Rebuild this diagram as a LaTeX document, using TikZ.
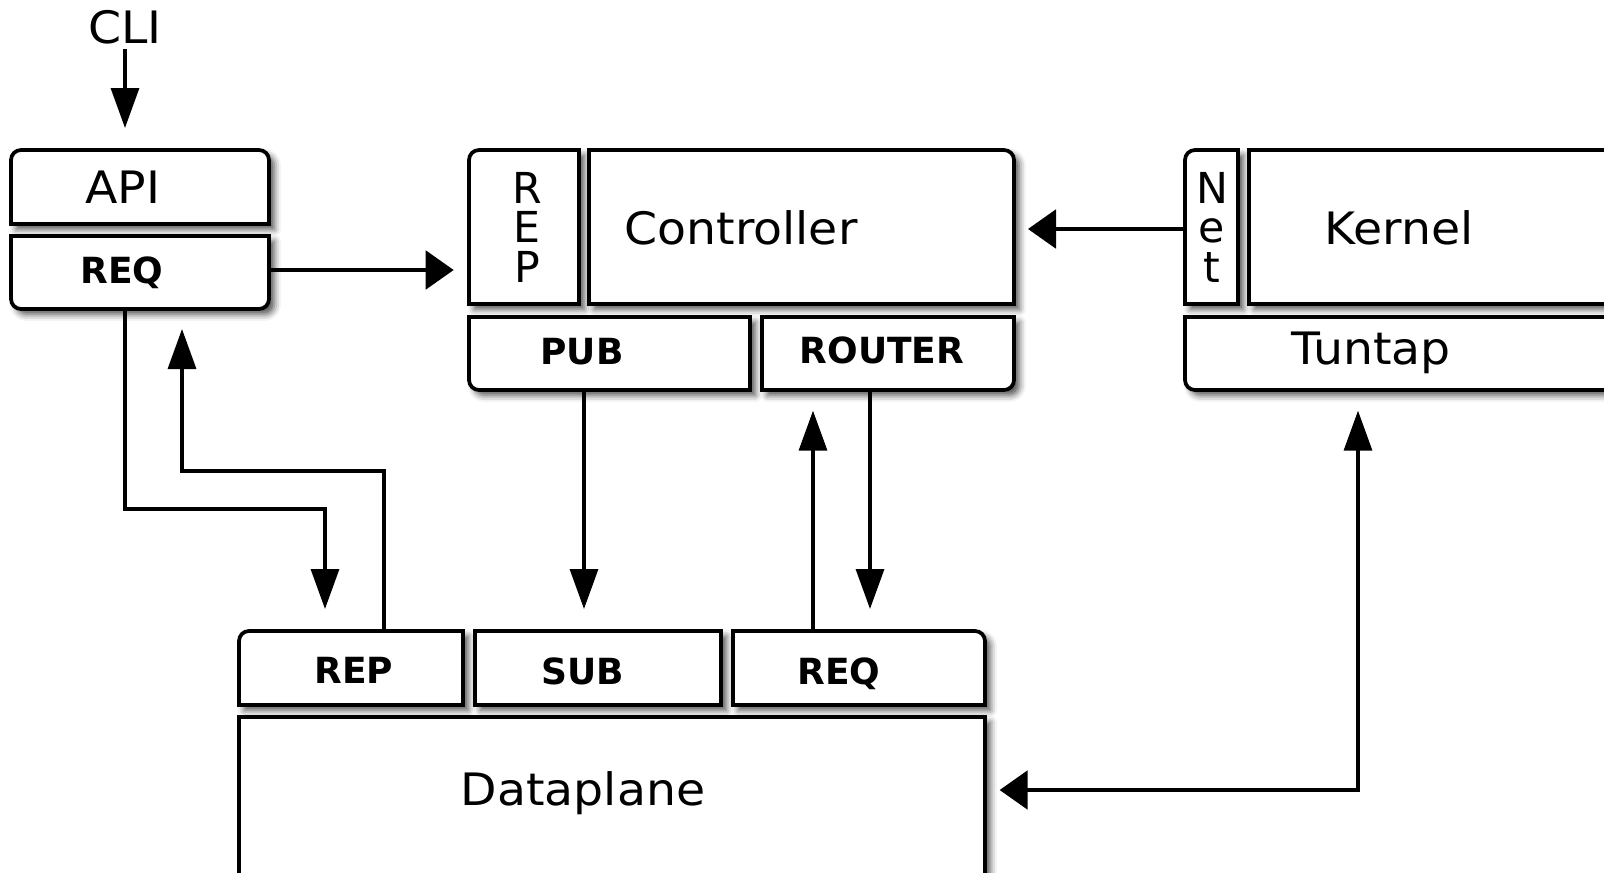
\documentclass[tikz,border=0pt]{standalone}
\usepackage{fontspec}
\setmainfont{DejaVu Sans}
\newfontfamily\widefont{DejaVu Sans}[FakeStretch=1.06]
\usetikzlibrary{arrows.meta,fit,shadows.blur}

% outline of a panel whose four corners (nw, ne, se, sw) each get their own radius
\newcommand\panelshade[5]{%
  \path[panelshadow] (#1.west) [rounded corners=#2] -- (#1.north west)
    [rounded corners=#3] -- (#1.north east) [rounded corners=#4] -- (#1.south east)
    [rounded corners=#5] -- (#1.south west) -- cycle;}
\newcommand\paneldraw[5]{%
  \draw[panelline] (#1.west) [rounded corners=#2] -- (#1.north west)
    [rounded corners=#3] -- (#1.north east) [rounded corners=#4] -- (#1.south east)
    [rounded corners=#5] -- (#1.south west) -- cycle;}

\begin{document}
\begin{tikzpicture}[x=0.75pt, y=-0.75pt,
  frame/.style={rectangle, inner sep=0pt, outer sep=0pt},
  panelline/.style={line width=2.8pt, draw=black, fill=white, line join=miter},
  panelshadow/.style={blur shadow={shadow xshift=4pt, shadow yshift=-4pt,
      shadow blur radius=5pt, shadow opacity=70}},
  bigtxt/.style={anchor=base, inner sep=0pt, font=\widefont\fontsize{33.5}{36}\selectfont},
  porttxt/.style={anchor=base, inner sep=0pt, font=\fontsize{27}{30}\selectfont\bfseries},
  stacktxt/.style={anchor=center, inner sep=0pt, align=center,
      font=\fontsize{32}{29.6}\selectfont},
  vtip/.tip={Triangle[length=30pt, width=21pt, fill=black]},
  htip/.tip={Triangle[length=21pt, width=29pt, fill=black]},
  conn/.style={line width=2.5pt, draw=black},
]
\useasboundingbox (0,0) rectangle (1604,872);
\clip (0,0) rectangle (1604,872);

% panel frames
\node[frame, fit={(11,150) (269,224)}] (api) {};
\node[frame, fit={(11,236) (269,309)}] (apireq) {};
\node[frame, fit={(469,150) (579,304)}] (crep) {};
\node[frame, fit={(589,150) (1014,304)}] (ctrl) {};
\node[frame, fit={(469,317) (750,390)}] (pub) {};
\node[frame, fit={(762,317) (1014,390)}] (router) {};
\node[frame, fit={(1185,150) (1238,304)}] (net) {};
\node[frame, fit={(1249,150) (1660,304)}] (kernel) {};
\node[frame, fit={(1185,317) (1660,390)}] (tuntap) {};
\node[frame, fit={(239,631) (463,705)}] (drep) {};
\node[frame, fit={(475,631) (721,705)}] (sub) {};
\node[frame, fit={(733,631) (985,705)}] (dreq) {};
\node[frame, fit={(239,717) (985,910)}] (dataplane) {};

% shadows first, then the panels on top
\begin{scope}
\panelshade{api}{7.5pt}{7.5pt}{0pt}{0pt}
\panelshade{apireq}{0pt}{0pt}{7.5pt}{7.5pt}
\panelshade{crep}{7.5pt}{0pt}{0pt}{0pt}
\panelshade{ctrl}{0pt}{7.5pt}{0pt}{0pt}
\panelshade{pub}{0pt}{0pt}{0pt}{7.5pt}
\panelshade{router}{0pt}{0pt}{7.5pt}{0pt}
\panelshade{net}{7.5pt}{0pt}{0pt}{0pt}
\panelshade{kernel}{0pt}{7.5pt}{0pt}{0pt}
\panelshade{tuntap}{0pt}{0pt}{7.5pt}{7.5pt}
\panelshade{drep}{7.5pt}{0pt}{0pt}{0pt}
\panelshade{sub}{0pt}{0pt}{0pt}{0pt}
\panelshade{dreq}{0pt}{7.5pt}{0pt}{0pt}
\panelshade{dataplane}{0pt}{0pt}{7.5pt}{7.5pt}
\end{scope}

\paneldraw{api}{7.5pt}{7.5pt}{0pt}{0pt}
\paneldraw{apireq}{0pt}{0pt}{7.5pt}{7.5pt}
\paneldraw{crep}{7.5pt}{0pt}{0pt}{0pt}
\paneldraw{ctrl}{0pt}{7.5pt}{0pt}{0pt}
\paneldraw{pub}{0pt}{0pt}{0pt}{7.5pt}
\paneldraw{router}{0pt}{0pt}{7.5pt}{0pt}
\paneldraw{net}{7.5pt}{0pt}{0pt}{0pt}
\paneldraw{kernel}{0pt}{7.5pt}{0pt}{0pt}
\paneldraw{tuntap}{0pt}{0pt}{7.5pt}{7.5pt}
\paneldraw{drep}{7.5pt}{0pt}{0pt}{0pt}
\paneldraw{sub}{0pt}{0pt}{0pt}{0pt}
\paneldraw{dreq}{0pt}{7.5pt}{0pt}{0pt}
\paneldraw{dataplane}{0pt}{0pt}{7.5pt}{7.5pt}

% labels
\node[bigtxt] (cli) at (125,43) {CLI};
\node[bigtxt] (api-t) at (123,203) {API};
\node[porttxt] (apireq-t) at (122,283) {REQ};
\node[stacktxt] (crep-t) at (527,227) {R\\E\\P};
\node[bigtxt] (ctrl-t) at (741,244) {Controller};
\node[porttxt] (pub-t) at (582,364) {PUB};
\node[porttxt] (router-t) at (882,363) {ROUTER};
\node[stacktxt] (net-t) at (1212,227) {N\\e\\t};
\node[bigtxt] (kernel-t) at (1399,244) {Kernel};
\node[bigtxt] (tuntap-t) at (1371,364) {Tuntap};
\node[porttxt] (drep-t) at (354,683) {REP};
\node[porttxt] (sub-t) at (583,684) {SUB};
\node[porttxt] (dreq-t) at (839,684) {REQ};
\node[bigtxt] (dataplane-t) at (583,805) {Dataplane};

% connectors
\draw[conn, -vtip, shorten >=16.5pt] (cli.south |- 0,49) -- (cli.south |- api.north);
\draw[conn, -htip, shorten >=11.5pt] (apireq.east |- 0,270) -- (crep.west |- 0,270);
\draw[conn, -vtip, shorten >=16.5pt] (125,0 |- apireq.south) -- (125,509) -| (325,0 |- drep.north);
\draw[conn, -vtip, shorten >=15pt] (384,0 |- drep.north) -- (384,471) -| (182,0 |- apireq.south);
\draw[conn, -vtip, shorten >=16.5pt] (584,0 |- pub.south) -- (584,0 |- sub.north);
\draw[conn, -vtip, shorten >=15.5pt] (813,0 |- dreq.north) -- (813,0 |- router.south);
\draw[conn, -vtip, shorten >=16.5pt] (870,0 |- router.south) -- (870,0 |- dreq.north);
\draw[conn, -htip, shorten >=10.5pt] (net.west |- 0,229) -- (ctrl.east |- 0,229);
\draw[conn, vtip-htip, shorten <=15.5pt, shorten >=11pt] (1358,0 |- tuntap.south) -- (1358,790) -- (dataplane.east |- 0,790);
\end{tikzpicture}
\end{document}
